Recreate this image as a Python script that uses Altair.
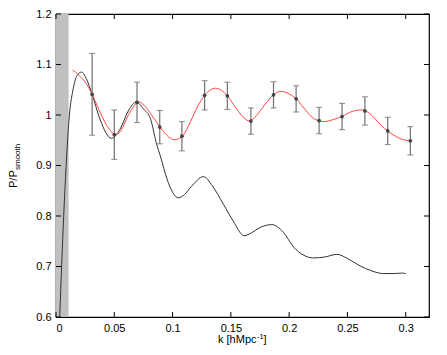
import altair as alt
import pandas as pd

# ---- data ----
k_pts = [0.031, 0.050, 0.0695, 0.089, 0.108, 0.1275, 0.147, 0.1672, 0.1866, 0.206, 0.2257, 0.2454, 0.265, 0.2846, 0.304]
ratio_pts = [1.041, 0.961, 1.025, 0.976, 0.958, 1.039, 1.038, 0.988, 1.040, 1.032, 0.989, 0.997, 1.008, 0.9685, 0.949]
err_pts = [0.081, 0.049, 0.040, 0.033, 0.029, 0.029, 0.027, 0.026, 0.026, 0.026, 0.026, 0.026, 0.028, 0.027, 0.028]

k_red = [0.0143, 0.0195, 0.026, 0.031, 0.036, 0.041, 0.046, 0.051, 0.056, 0.061, 0.066, 0.071, 0.076, 0.082,
         0.089, 0.095, 0.1015, 0.108, 0.114, 0.120, 0.1275, 0.137, 0.147, 0.154, 0.161, 0.166, 0.172, 0.179,
         0.1866, 0.193, 0.199, 0.206, 0.214, 0.221, 0.230, 0.238, 0.2454, 0.254, 0.262, 0.268, 0.274, 0.279,
         0.2846, 0.292, 0.298, 0.304]
r_red = [1.089, 1.079, 1.062, 1.041, 1.015, 0.990, 0.971, 0.961, 0.970, 0.995, 1.015, 1.026, 1.018, 1.000,
         0.977, 0.960, 0.951, 0.957, 0.980, 1.010, 1.039, 1.053, 1.038, 1.015, 0.995, 0.988, 0.999, 1.020,
         1.040, 1.047, 1.043, 1.032, 1.010, 0.993, 0.987, 0.991, 0.997, 1.007, 1.010, 1.005, 0.992, 0.979,
         0.968, 0.957, 0.951, 0.949]

k_black = [0.0032, 0.0066, 0.0087, 0.0115, 0.0146, 0.018, 0.022, 0.026, 0.031, 0.038, 0.0475, 0.055, 0.062,
           0.069, 0.075, 0.081, 0.086, 0.090, 0.095, 0.100, 0.105, 0.110, 0.116, 0.1266, 0.134, 0.1437, 0.152,
           0.1614, 0.168, 0.175, 0.185, 0.195, 0.204, 0.212, 0.221, 0.231, 0.241, 0.250, 0.261, 0.270, 0.281,
           0.290, 0.2966, 0.300]
r_black = [0.600, 0.800, 0.900, 1.000, 1.050, 1.078, 1.085, 1.072, 1.041, 0.990, 0.954, 0.972, 1.008,
           1.026, 1.012, 0.993, 0.945, 0.915, 0.875, 0.847, 0.836, 0.842, 0.858, 0.878, 0.860, 0.823, 0.790,
           0.761, 0.767, 0.777, 0.783, 0.768, 0.738, 0.723, 0.717, 0.719, 0.724, 0.716, 0.701, 0.692, 0.686,
           0.686, 0.687, 0.686]

band = [0.0, 0.0108]
x_ticks = [0, 0.05, 0.1, 0.15, 0.2, 0.25, 0.3]
y_ticks = [0.6, 0.7, 0.8, 0.9, 1.0, 1.1, 1.2]

W, H = 373, 303
FONT = "Liberation Sans"

xs = alt.Scale(domain=[0, 0.32], nice=False, zero=False)
ys = alt.Scale(domain=[0.6, 1.2], nice=False, zero=False)

pts = pd.DataFrame({"k": k_pts, "r": ratio_pts, "e": err_pts})
pts["lo"] = pts["r"] - pts["e"]
pts["hi"] = pts["r"] + pts["e"]

band_df = pd.DataFrame({"x0": [band[0]], "x1": [band[1]], "y0": [0.6], "y1": [1.2]})
band_layer = alt.Chart(band_df).mark_rect(color="#c0c0c0").encode(
    x=alt.X("x0:Q", scale=xs, axis=alt.Axis(values=x_ticks, format="~g", ticks=False, domain=False, grid=False,
                                             labelFont=FONT, labelFontSize=11, labelColor="#000",
                                             labelPadding=5), title=None),
    x2="x1:Q",
    y=alt.Y("y0:Q", scale=ys, axis=alt.Axis(values=y_ticks, format="~g", ticks=False, domain=False, grid=False,
                                             labelFont=FONT, labelFontSize=11, labelColor="#000",
                                             labelPadding=5), title=None),
    y2="y1:Q",
)

black_layer = alt.Chart(pd.DataFrame({"k": k_black, "r": r_black})).mark_line(
    color="#333333", strokeWidth=1, interpolate="monotone", clip=True
).encode(x=alt.X("k:Q", scale=xs), y=alt.Y("r:Q", scale=ys))

red_layer = alt.Chart(pd.DataFrame({"k": k_red, "r": r_red})).mark_line(
    color="#ff4444", strokeWidth=1, interpolate="monotone"
).encode(x=alt.X("k:Q", scale=xs), y=alt.Y("r:Q", scale=ys))

err_layer = alt.Chart(pts).mark_rule(color="#707070", strokeWidth=1.2).encode(
    x=alt.X("k:Q", scale=xs), y=alt.Y("lo:Q", scale=ys), y2="hi:Q"
)
cap_lo = alt.Chart(pts).mark_tick(color="#707070", orient="horizontal", size=6, thickness=1.2).encode(
    x=alt.X("k:Q", scale=xs), y=alt.Y("lo:Q", scale=ys)
)
cap_hi = alt.Chart(pts).mark_tick(color="#707070", orient="horizontal", size=6, thickness=1.2).encode(
    x=alt.X("k:Q", scale=xs), y=alt.Y("hi:Q", scale=ys)
)
pt_layer = alt.Chart(pts).mark_point(shape="circle", filled=True, size=14, color="#444444", opacity=1).encode(
    x=alt.X("k:Q", scale=xs), y=alt.Y("r:Q", scale=ys)
)

xt = pd.DataFrame({"t": x_ticks})
yt = pd.DataFrame({"t": y_ticks})
TL = 5
tick_bottom = alt.Chart(xt).mark_rule(color="#000", strokeWidth=1).encode(
    x=alt.X("t:Q", scale=xs), y=alt.value(H), y2=alt.value(H - TL))
tick_top = alt.Chart(xt).mark_rule(color="#000", strokeWidth=1).encode(
    x=alt.X("t:Q", scale=xs), y=alt.value(0), y2=alt.value(TL))
tick_left = alt.Chart(yt).mark_rule(color="#000", strokeWidth=1).encode(
    y=alt.Y("t:Q", scale=ys), x=alt.value(0), x2=alt.value(TL))
tick_right = alt.Chart(yt).mark_rule(color="#000", strokeWidth=1).encode(
    y=alt.Y("t:Q", scale=ys), x=alt.value(W), x2=alt.value(W - TL))

one = pd.DataFrame({"a": [0]})
def txt(s, x, y, size, angle=0, align="left"):
    return alt.Chart(one).mark_text(text=s, font=FONT, fontSize=size, angle=angle, align=align,
                                    baseline="alphabetic", color="#000").encode(
        x=alt.value(x), y=alt.value(y))

ytitle1 = txt("P/P", -39, 174, 11, angle=270)
ytitle2 = txt("smooth", -36, 156, 8, angle=270)
xtitle1 = txt("k [hMpc", 200.5, 329, 11, align="right")
xtitle2 = txt("-1", 201, 324.5, 7.5)
xtitle3 = txt("]", 207.5, 329, 11)

chart = alt.layer(
    band_layer, black_layer, red_layer, err_layer, cap_lo, cap_hi, pt_layer,
    tick_bottom, tick_top, tick_left, tick_right,
    ytitle1, ytitle2, xtitle1, xtitle2, xtitle3,
).properties(
    width=W, height=H,
    autosize=alt.AutoSizeParams(type="none"),
    padding={"left": 48, "top": 6, "right": 10, "bottom": 30},
).configure_view(stroke="#000", strokeWidth=1.2)

chart.save("out.html", embed_options={"renderer": "svg", "actions": False})
